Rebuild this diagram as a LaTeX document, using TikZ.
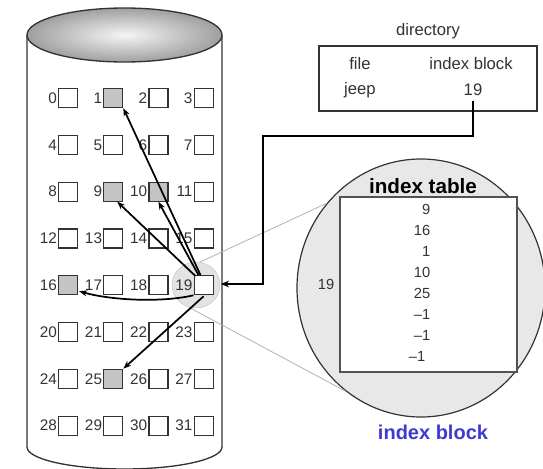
\documentclass[tikz,border=0pt]{standalone}
\usepackage{fontspec}
\setmainfont{Liberation Sans}
\usetikzlibrary{shapes.geometric,arrows.meta,calc}
\definecolor{ink}{HTML}{333333}
\definecolor{boxgray}{HTML}{C4C4C4}
\definecolor{bluelbl}{HTML}{3B3BD0}
\begin{document}
\begin{tikzpicture}[x=0.75pt,y=-0.75pt,
  blk/.style={draw=ink, fill=white, line width=0.9pt, minimum size=14.25pt, inner sep=0pt},
  used/.style={blk, fill=boxgray},
  num/.style={font=\fontsize{11.5}{13}\selectfont, text=ink, inner sep=0.6pt, anchor=east},
  dtext/.style={font=\fontsize{12.5}{14}\selectfont, text=ink},
  ttext/.style={font=\fontsize{11}{13}\selectfont, text=ink},
  arr/.style={line width=1.3pt, -{Stealth[length=6pt,width=4.5pt]}},
  guide/.style={gray!60, line width=0.6pt}]
\useasboundingbox (0,0) rectangle (543,468);

% cylinder
\draw[ink, line width=1pt] (27,35) -- (27,447) arc[start angle=180, end angle=0, x radius=97.5, y radius=22] -- (222,35);
\shadedraw[inner color=gray!8, outer color=gray!75, draw=ink, line width=1pt] (124.5,35) ellipse [x radius=97.5, y radius=27];

% small highlight circle around block 19
\node[ellipse, draw=gray!45, fill=gray!22, minimum width=36pt, minimum height=34.5pt, inner sep=0pt] (sc) at (196,285) {};

% blocks
\foreach \i in {0,...,31} {
  \pgfmathtruncatemacro\c{mod(\i,4)}
  \pgfmathtruncatemacro\r{div(\i,4)}
  \def\st{blk}
  \ifnum\i=1 \def\st{used}\fi
  \ifnum\i=9 \def\st{used}\fi
  \ifnum\i=10 \def\st{used}\fi
  \ifnum\i=16 \def\st{used}\fi
  \ifnum\i=25 \def\st{used}\fi
  \node[\st] (b\i) at (68+45.2*\c, 98+46.8*\r) {};
  \node[num] (l\i) at (b\i.west) {\i};
}

% big magnified circle
\node[ellipse, draw=ink, line width=0.9pt, fill=gray!18, minimum width=186pt, minimum height=193.5pt, inner sep=0pt] (bc) at (421,288) {};
\draw[guide] (sc.80) -- (bc.138);
\draw[guide] (sc.252) -- (bc.234);

\node[draw=ink!85, line width=1.1pt, fill=white, minimum width=132.75pt, minimum height=131.25pt, inner sep=0pt] (itab) at (428.5,284.5) {};
\node[font=\bfseries\fontsize{15.5}{17}\selectfont] (ithead) at (423,186) {index table};
\foreach \v [count=\k from 0] in {9,16,1,10,25,–1,–1} {
  \node[ttext, anchor=east] (v\k) at (435, 209+21.1*\k) {\v};
}
\node[ttext, anchor=east] (v7) at (430, 356.7) {–1};
\node[ttext] (i19) at (326,284) {19};
\node[font=\bfseries\fontsize{15}{17}\selectfont, text=bluelbl] (iblk) at (433,432) {index block};

% directory
\node[dtext] (dirt) at (428,31) {directory};
\node[draw=ink, line width=0.9pt, minimum width=163.5pt, minimum height=48.75pt, inner sep=0pt] (dir) at (428,78.5) {};
\node[dtext] (dfile) at (360,64) {file};
\node[dtext] (dib) at (471,64) {index block};
\node[dtext] (djeep) at (360,90) {jeep};
\node[dtext] (d19) at (473,90) {19};

\coordinate (bend) at (263,136);
\coordinate (tip) at (221,284);
\draw[line width=1.5pt, -{Stealth[length=6pt,width=5pt]}] (d19.south) |- (bend) -- (bend |- tip) -- (tip);

% pointers from index block 19
\draw[arr] ($(b19.north west)+(7,0)$) -- (b1.south east);
\draw[arr] ($(b19.north west)+(5,0)$) -- (b10.south);
\draw[arr] ($(b19.north west)+(2,1)$) -- ($(b9.south)+(4,0)$);
\draw[arr] (b19.south west) .. controls (160,303) and (110,300) .. ($(b16.east)+(1,6)$);
\draw[arr] ($(b19.south)+(0,1)$) -- (b25.north east);
\end{tikzpicture}
\end{document}
